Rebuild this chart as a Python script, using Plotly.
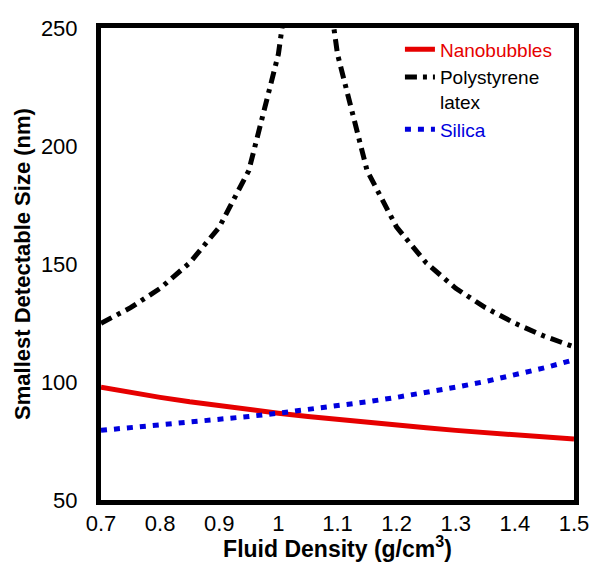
import plotly.graph_objects as go

# Fluid density (g/cm^3)
density = [0.70, 0.75, 0.80, 0.85, 0.90, 0.95, 1.00, 1.05, 1.10, 1.15,
           1.20, 1.25, 1.30, 1.35, 1.40, 1.45, 1.50]

# Smallest detectable size (nm)
nanobubbles = [97.8, 95.5, 93.5, 91.6, 89.9, 88.3, 86.8, 85.4, 84.1, 82.9,
               81.7, 80.6, 79.5, 78.5, 77.6, 76.7, 75.8]
silica = [79.5, 80.6, 81.7, 82.9, 84.1, 85.4, 86.8, 88.3, 89.9, 91.6,
          93.5, 95.5, 97.8, 100.2, 102.9, 106.0, 109.4]

ps_density = [0.70, 0.75, 0.80, 0.85, 0.90, 0.95, 1.00, 1.01, 1.05, 1.09,
              1.10, 1.15, 1.20, 1.25, 1.30, 1.35, 1.40, 1.45, 1.50]
polystyrene = [124.9, 131.5, 139.7, 150.5, 165.6, 189.6, 238.9, 257.0, None, 257.0,
               238.9, 189.6, 165.6, 150.5, 139.7, 131.5, 124.9, 119.4, 114.9]

x_ticks = [0.7, 0.8, 0.9, 1.0, 1.1, 1.2, 1.3, 1.4, 1.5]
x_tick_text = ["0.7", "0.8", "0.9", "1", "1.1", "1.2", "1.3", "1.4", "1.5"]
y_ticks = [50, 100, 150, 200, 250]

RED = "#e60000"
BLUE = "#0000dd"
FONT = "Liberation Sans, Arial, sans-serif"

fig = go.Figure()
fig.add_trace(go.Scatter(
    x=density, y=nanobubbles, mode="lines",
    name=f'<span style="color:{RED}">Nanobubbles</span>',
    line=dict(color=RED, width=5),
))
fig.add_trace(go.Scatter(
    x=ps_density, y=polystyrene, mode="lines", connectgaps=False,
    name="Polystyrene<br>latex",
    line=dict(color="black", width=5, dash="12px,6px,4px,6px"),
))
fig.add_trace(go.Scatter(
    x=density, y=silica, mode="lines",
    name=f'<span style="color:{BLUE}">Silica</span>',
    line=dict(color=BLUE, width=5, dash="6px,7px"),
))

fig.update_layout(
    width=595, height=562,
    margin=dict(l=101, r=21, t=28, b=62, autoexpand=False),
    paper_bgcolor="white", plot_bgcolor="white",
    font=dict(family=FONT, color="black", size=22),
    showlegend=True,
    legend=dict(
        x=0.632, y=0.995, xanchor="left", yanchor="top",
        bgcolor="rgba(0,0,0,0)", borderwidth=0,
        font=dict(size=19, family=FONT, color="black"),
        tracegroupgap=0, itemwidth=30, valign="top",
    ),
)
fig.update_xaxes(
    range=[0.7, 1.5], tickvals=x_ticks, ticktext=x_tick_text,
    showgrid=False, zeroline=False, ticks="",
    showline=True, linewidth=5, linecolor="black", mirror=True,
    tickfont=dict(size=22, family=FONT),
    title=dict(text="<b>Fluid Density (g/cm<sup>3</sup>)</b>",
               font=dict(size=23, family=FONT), standoff=3),
    automargin=False,
)
fig.update_yaxes(
    range=[50, 250], tickvals=y_ticks,
    showgrid=False, zeroline=False, ticks="",
    showline=True, linewidth=5, linecolor="black", mirror=True,
    tickfont=dict(size=22, family=FONT), ticklabelstandoff=14,
    title=dict(text="<b>Smallest Detectable Size (nm)</b>",
               font=dict(size=22, family=FONT), standoff=6),
    automargin=False,
)

fig.write_html("out.html")
